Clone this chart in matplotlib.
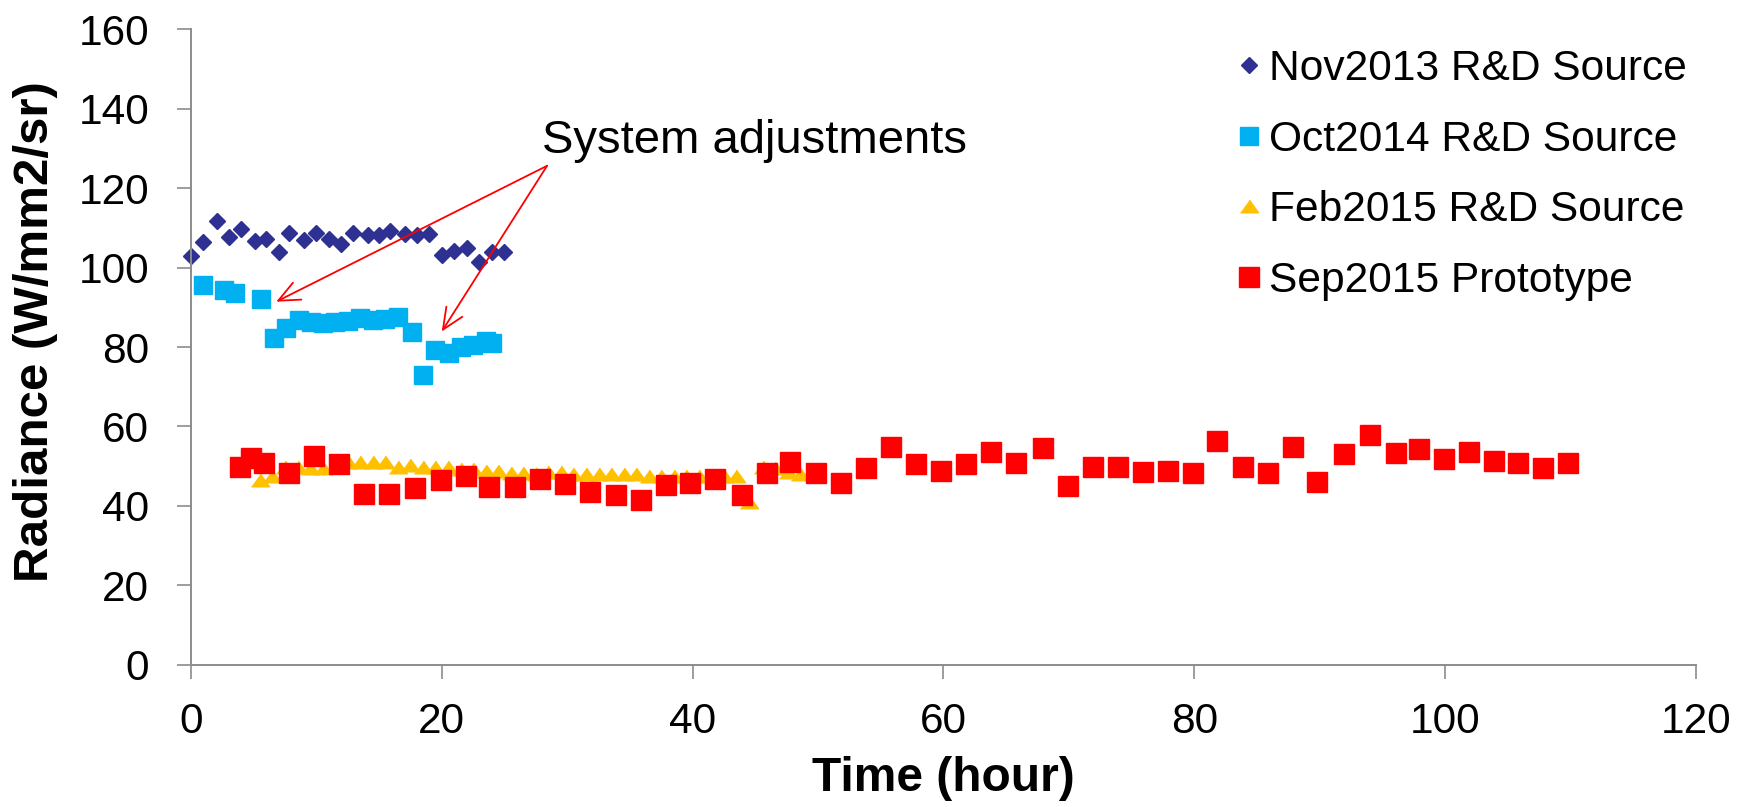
import matplotlib
matplotlib.use("Agg")
import matplotlib.pyplot as plt

# Radiance vs time for four sources, with "System adjustments" callout

nov_x = [0, 1, 2.1, 3, 4, 5.1, 6, 7, 7.8, 9, 10, 11, 12, 12.9, 14.1, 15, 15.9,
         17.1, 18, 19, 20, 21, 22, 23, 24, 25]
nov_y = [102.9, 106.3, 111.8, 107.7, 109.8, 106.7, 107.2, 104.0, 108.6, 106.9,
         108.6, 107.3, 105.9, 108.8, 108.2, 108.2, 109.3, 108.4, 108.2, 108.4,
         103.1, 104.2, 104.8, 101.5, 103.8, 103.8]

oct_x = [1.0, 2.6, 3.5, 5.6, 6.6, 7.6, 8.6, 9.6, 10.5, 11.5, 12.5, 13.5, 14.5,
         15.5, 16.5, 17.6, 18.5, 19.5, 20.6, 21.5, 22.5, 23.5, 24.0]
oct_y = [95.7, 94.3, 93.5, 92.2, 82.2, 84.9, 86.8, 86.4, 86.0, 86.2, 86.6, 87.2,
         86.8, 87.0, 87.6, 83.7, 73.0, 79.2, 78.4, 80.1, 80.5, 81.6, 81.1]

feb_x = [5.5, 6.5, 7.5, 8.5, 9.5, 10.5, 11.5, 12.5, 13.5, 14.5, 15.5, 16.5,
         17.5, 18.5, 19.5, 20.5, 21.5, 22.5, 23.5, 24.5, 25.5, 26.5, 27.5, 28.5,
         29.5, 30.5, 31.5, 32.5, 33.5, 34.5, 35.5, 36.5, 37.5, 38.5, 39.5, 40.5,
         41.5, 42.5, 43.5, 44.5, 45.6, 46.6, 47.6, 48.6]
feb_y = [46.5, 47.5, 49.9, 49.9, 49.5, 49.5, 50.0, 51.1, 51.1, 51.1, 51.1, 49.7,
         50.3, 49.7, 49.7, 49.9, 49.3, 49.3, 48.7, 48.7, 48.3, 48.3, 48.1, 48.6,
         48.6, 48.1, 48.1, 48.0, 48.0, 48.0, 48.0, 47.6, 47.6, 47.6, 47.6, 47.6,
         47.6, 47.6, 47.6, 41.1, 49.9, 49.5, 48.5, 48.0]

sep_x = [3.9, 4.8, 5.8, 7.8, 9.8, 11.8, 13.8, 15.8, 17.9, 19.9, 21.9, 23.8,
         25.8, 27.8, 29.8, 31.8, 33.9, 35.9, 37.9, 39.8, 41.8, 43.9, 45.9, 47.8,
         49.8, 51.8, 53.8, 55.8, 57.8, 59.8, 61.8, 63.8, 65.8, 67.9, 69.9, 71.9,
         73.9, 75.9, 77.9, 79.9, 81.8, 83.9, 85.9, 87.9, 89.8, 91.9, 94.0, 96.1,
         97.9, 99.9, 101.9, 103.9, 105.8, 107.8, 109.8]
sep_y = [49.9, 52.0, 50.7, 48.2, 52.6, 50.6, 43.0, 43.0, 44.6, 46.5, 47.5, 44.7,
         44.7, 46.7, 45.5, 43.6, 42.8, 41.5, 45.3, 45.7, 46.7, 42.8, 48.4, 51.0,
         48.2, 45.7, 49.6, 54.8, 50.5, 48.9, 50.6, 53.6, 50.7, 54.5, 45.0, 49.9,
         49.7, 48.5, 48.9, 48.2, 56.4, 49.9, 48.4, 54.9, 46.1, 53.0, 57.9, 53.3,
         54.3, 51.8, 53.5, 51.2, 50.8, 49.6, 50.7]

labels = ["Nov2013 R&D Source", "Oct2014 R&D Source",
          "Feb2015 R&D Source", "Sep2015 Prototype"]

adjust_from = (28.4, 125.6)
adjust_to = [(6.8, 91.4), (20.0, 83.9)]

plt.rcParams["font.family"] = ["Liberation Sans", "DejaVu Sans"]

fig = plt.figure(figsize=(17.5, 8.07), dpi=100)
ax = fig.add_axes([0.1091, 0.176, 0.86, 0.788])

flat_tri = [(-1, -0.7), (1, -0.7), (0, 0.7)]

ax.plot(nov_x, nov_y, ls="none", marker="D", ms=8.6, color="#2E3192",
        label=labels[0], clip_on=False)
ax.plot(oct_x, oct_y, ls="none", marker="s", ms=13, color="#00B0F0",
        label=labels[1], clip_on=False)
ax.plot(feb_x, feb_y, ls="none", marker=flat_tri, ms=13, color="#FFC000",
        label=labels[2], clip_on=False)
ax.plot(sep_x, sep_y, ls="none", marker="s", ms=14.4, color="#FF0000",
        label=labels[3], clip_on=False)

ax.set_xlim(0, 120)
ax.set_ylim(0, 160)
ax.set_xticks(range(0, 121, 20))
ax.set_yticks(range(0, 161, 20))

for side in ["top", "right"]:
    ax.spines[side].set_visible(False)
for side in ["left", "bottom"]:
    ax.spines[side].set_color("#8C8C8C")
    ax.spines[side].set_linewidth(1.4)

ax.tick_params(axis="both", direction="out", length=10, width=1.2,
               color="#8C8C8C", labelsize=30.5)
ax.tick_params(axis="y", pad=20)
ax.tick_params(axis="x", pad=17)

ax.set_xlabel("Time (hour)", fontsize=34.5, fontweight="bold", va="center")
ax.xaxis.set_label_coords(0.5, -0.179)
ax.set_ylabel("Radiance (W/mm2/sr)", fontsize=35.5, fontweight="bold", va="center")
ax.yaxis.set_label_coords(-0.103, 0.524)

ax.text(27.97, 128.8, "System adjustments", fontsize=34, ha="left",
        va="baseline", zorder=6)
for end in adjust_to:
    ax.annotate("", xy=end, xytext=adjust_from,
                arrowprops=dict(arrowstyle="->,head_length=0.45,head_width=0.2",
                                color="red", lw=1.3, shrinkA=0, shrinkB=0,
                                mutation_scale=34),
                zorder=6)

ax.legend(loc="upper left", bbox_to_anchor=(1236 / 1750, 1 - 49 / 807),
          bbox_transform=fig.transFigure, frameon=False, fontsize=30.6,
          handlelength=0.6, handletextpad=0.17, labelspacing=0.72,
          borderaxespad=0, borderpad=0)

fig.savefig("out.png", dpi=100)
